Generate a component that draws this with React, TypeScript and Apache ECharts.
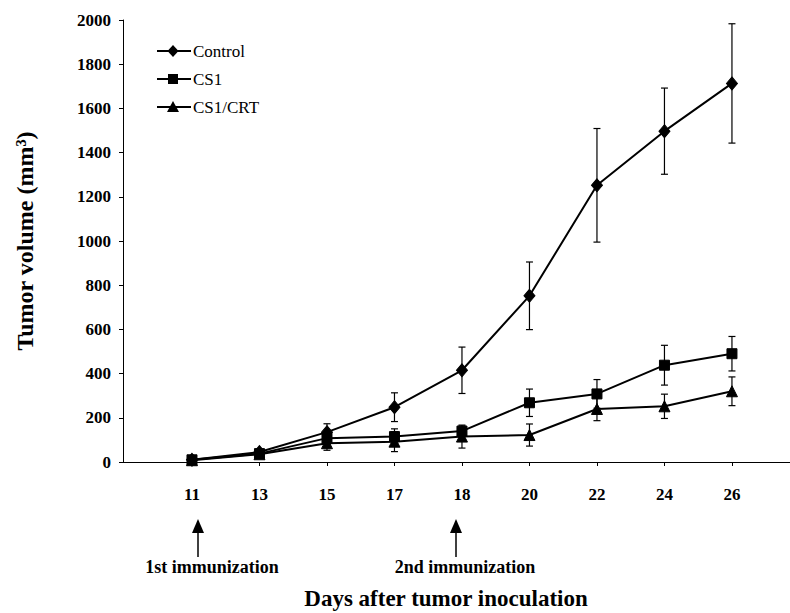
import React, { useEffect, useRef } from "react";
import * as echarts from "echarts";

const days = ["11", "13", "15", "17", "18", "20", "22", "24", "26"];
const controlMean = [10, 45, 135, 248, 415, 752, 1252, 1497, 1713];
const controlErr = [5, 10, 38, 65, 105, 153, 257, 195, 270];
const cs1Mean = [10, 38, 108, 115, 140, 268, 308, 438, 490];
const cs1Err = [5, 10, 30, 35, 23, 62, 65, 90, 78];
const crtMean = [8, 35, 85, 92, 115, 122, 240, 252, 320];
const crtErr = [5, 10, 32, 45, 52, 50, 53, 55, 65];
const yTicks = [0, 200, 400, 600, 800, 1000, 1200, 1400, 1600, 1800, 2000];
const legendNames = ["Control", "CS1", "CS1/CRT"];

const FONT = "'Liberation Serif', 'Times New Roman', serif";

function lineData(vals: number[]) {
  return vals.map((v, i) => [i, v]);
}
function errData(vals: number[], errs: number[]) {
  return vals.map((v, i) => [i, v - errs[i], v + errs[i]]);
}

function errorSeries(vals: number[], errs: number[]) {
  return {
    type: "custom",
    silent: true,
    z: 1,
    data: errData(vals, errs),
    renderItem: (params: any, api: any) => {
      const x = api.value(0);
      const lo = api.coord([x, api.value(1)]);
      const hi = api.coord([x, api.value(2)]);
      const cap = 3.5;
      const style = { stroke: "#000", lineWidth: 1.2 };
      return {
        type: "group",
        children: [
          { type: "line", shape: { x1: hi[0], y1: hi[1], x2: lo[0], y2: lo[1] }, style },
          { type: "line", shape: { x1: hi[0] - cap, y1: hi[1], x2: hi[0] + cap, y2: hi[1] }, style },
          { type: "line", shape: { x1: lo[0] - cap, y1: lo[1], x2: lo[0] + cap, y2: lo[1] }, style },
        ],
      };
    },
  };
}

function lineSeries(name: string, vals: number[], symbol: string, size: any) {
  return {
    name,
    type: "line",
    data: lineData(vals),
    symbol,
    symbolSize: size,
    z: 3,
    lineStyle: { color: "#000", width: 2 },
    itemStyle: { color: "#000", borderColor: "#000" },
  };
}

function legendItem(i: number) {
  const y = 51 + i * 28;
  const cx = 173;
  let marker: any;
  if (i === 0) {
    marker = { type: "polygon", shape: { points: [[cx - 5.5, y], [cx, y - 6], [cx + 5.5, y], [cx, y + 6]] }, style: { fill: "#000" } };
  } else if (i === 1) {
    marker = { type: "rect", shape: { x: cx - 5, y: y - 5, width: 10, height: 10 }, style: { fill: "#000" } };
  } else {
    marker = { type: "polygon", shape: { points: [[cx - 6, y + 5], [cx + 6, y + 5], [cx, y - 6]] }, style: { fill: "#000" } };
  }
  return [
    { type: "line", shape: { x1: 157, y1: y, x2: 191, y2: y }, style: { stroke: "#000", lineWidth: 2 } },
    marker,
    {
      type: "text",
      x: 193,
      y,
      style: { text: legendNames[i], fontFamily: FONT, fontSize: 17, fill: "#000", align: "left", verticalAlign: "middle" },
    },
  ];
}

export default function App() {
  const ref = useRef<HTMLDivElement>(null);
  useEffect(() => {
    if (!ref.current) return;
    const chart = echarts.init(ref.current, null, { renderer: "svg" });
    const idx = days.map((_, i) => i);
    chart.setOption({
      animation: false,
      backgroundColor: "#fff",
      grid: { left: 123, right: 0, top: 20, bottom: 151, containLabel: false },
      xAxis: {
        type: "value",
        min: -1.022,
        max: 8.86,
        splitLine: { show: false },
        axisLine: { onZero: false, lineStyle: { color: "#000", width: 1 } },
        axisTick: {
          show: true,
          customValues: idx,
          length: 4,
          lineStyle: { color: "#000" },
        },
        axisLabel: {
          customValues: idx,
          formatter: (v: number) => days[Math.round(v)] ?? "",
          margin: 24,
          fontFamily: FONT,
          fontWeight: "bold",
          fontSize: 17,
          color: "#000",
        },
      },
      yAxis: {
        type: "value",
        min: 0,
        max: 2000,
        interval: 200,
        splitLine: { show: false },
        axisLine: { show: true, onZero: false, lineStyle: { color: "#000", width: 1 } },
        axisTick: { show: true, length: 4, lineStyle: { color: "#000" } },
        axisLabel: {
          margin: 12,
          fontFamily: FONT,
          fontWeight: "bold",
          fontSize: 17,
          color: "#000",
          formatter: (v: number) => (yTicks.includes(v) ? String(v) : ""),
        },
        name: "Tumor volume (mm³)",
        nameLocation: "middle",
        nameGap: 86,
        nameTextStyle: { fontFamily: FONT, fontWeight: "bold", fontSize: 24, color: "#000" },
      },
      graphic: [
        ...legendItem(0),
        ...legendItem(1),
        ...legendItem(2),
        { type: "line", shape: { x1: 198, y1: 557, x2: 198, y2: 530 }, style: { stroke: "#000", lineWidth: 1.5 } },
        { type: "polygon", shape: { points: [[192, 533], [204, 533], [198, 519]] }, style: { fill: "#000" } },
        { type: "line", shape: { x1: 456, y1: 557, x2: 456, y2: 530 }, style: { stroke: "#000", lineWidth: 1.5 } },
        { type: "polygon", shape: { points: [[450, 533], [462, 533], [456, 519]] }, style: { fill: "#000" } },
        {
          type: "text",
          x: 212,
          y: 567,
          style: { text: "1st immunization", fontFamily: FONT, fontWeight: "bold", fontSize: 18, fill: "#000", align: "center", verticalAlign: "middle" },
        },
        {
          type: "text",
          x: 465,
          y: 567,
          style: { text: "2nd immunization", fontFamily: FONT, fontWeight: "bold", fontSize: 18, fill: "#000", align: "center", verticalAlign: "middle" },
        },
        {
          type: "text",
          x: 446,
          y: 598,
          style: { text: "Days after tumor inoculation", fontFamily: FONT, fontWeight: "bold", fontSize: 23, fill: "#000", align: "center", verticalAlign: "middle" },
        },
      ],
      series: [
        errorSeries(controlMean, controlErr),
        errorSeries(cs1Mean, cs1Err),
        errorSeries(crtMean, crtErr),
        lineSeries("Control", controlMean, "diamond", [11, 13]),
        lineSeries("CS1", cs1Mean, "rect", 10),
        lineSeries("CS1/CRT", crtMean, "triangle", 11),
      ],
    });
    return () => chart.dispose();
  }, []);
  return <div ref={ref} style={{ position: "absolute", left: 0, top: 0, width: 790, height: 613 }} />;
}
